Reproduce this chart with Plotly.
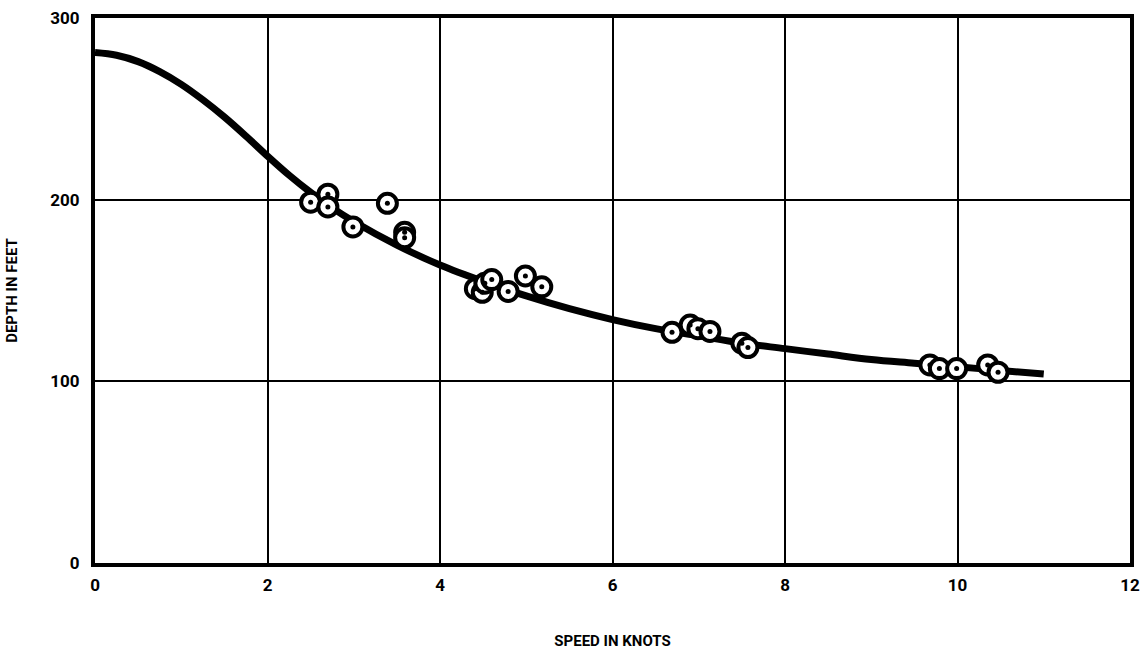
import plotly.graph_objects as go

# Smooth fitted curve (speed in knots, depth in feet)
curve_speed = [0, 0.25, 0.5, 0.75, 1.0, 1.25, 1.5, 1.75, 2.0, 2.25, 2.5, 2.75, 3.0, 3.5, 4.0, 4.5, 5.0, 5.5, 6.0, 6.5, 7.0, 7.5, 8.0, 8.5, 9.0, 9.5, 10.0, 10.5, 11.0]
curve_depth = [281, 279.5, 276, 270.5, 263.5, 255, 245.5, 235, 224, 213.5, 204, 195.5, 188, 175, 164, 155, 147, 140, 134, 129, 125, 121, 118, 115, 112, 110, 108, 106, 104]

# Observed data points
obs_speed = [2.50, 2.70, 2.70, 2.99, 3.39, 3.59, 3.59, 4.41, 4.49, 4.52, 4.60, 4.79, 4.99, 5.18, 6.69, 6.90, 6.99, 7.13, 7.50, 7.57, 9.68, 9.79, 9.99, 10.35, 10.47]
obs_depth = [198.6, 203, 196, 185, 198, 182, 179, 151, 149, 154, 156, 149.5, 158, 152, 127, 131, 129, 127.5, 121, 118.6, 109, 107, 107, 109, 105]

x_ticks = [0, 2, 4, 6, 8, 10, 12]
y_ticks = [0, 100, 200, 300]

font_family = "Liberation Sans Narrow, Roboto, Arial, sans-serif"

fig = go.Figure()
fig.add_trace(go.Scatter(
    x=curve_speed, y=curve_depth, mode="lines",
    line=dict(color="black", width=7, shape="spline", smoothing=1.0),
    hoverinfo="skip", showlegend=False))
fig.add_trace(go.Scatter(
    x=obs_speed, y=obs_depth, mode="markers",
    marker=dict(symbol="circle", size=19, color="white",
                line=dict(color="black", width=4)),
    showlegend=False))
fig.add_trace(go.Scatter(
    x=obs_speed, y=obs_depth, mode="markers",
    marker=dict(symbol="circle", size=5, color="black"),
    showlegend=False, hoverinfo="skip"))

axis_common = dict(
    showgrid=True, gridcolor="black", gridwidth=2,
    showline=True, linecolor="black", linewidth=4, mirror=True,
    zeroline=False, ticks="", automargin=False,
    tickfont=dict(family=font_family, size=17, color="black", weight="bold"),
)

fig.update_layout(
    width=1145, height=650,
    margin=dict(l=95, r=15, t=18, b=87),
    paper_bgcolor="white", plot_bgcolor="white",
    xaxis=dict(range=[0, 12], tickvals=x_ticks, ticktext=[str(v) for v in x_ticks],
               ticklabelstandoff=4,
               title=dict(text="SPEED IN KNOTS", standoff=48,
                          font=dict(family=font_family, size=15, color="black", weight="bold")),
               **axis_common),
    yaxis=dict(range=[0, 300], tickvals=y_ticks, ticktext=[str(v) for v in y_ticks],
               ticklabelstandoff=8,
               title=dict(text="DEPTH IN FEET", standoff=30,
                          font=dict(family=font_family, size=15, color="black", weight="bold")),
               **axis_common),
)

fig.write_html("out.html")
